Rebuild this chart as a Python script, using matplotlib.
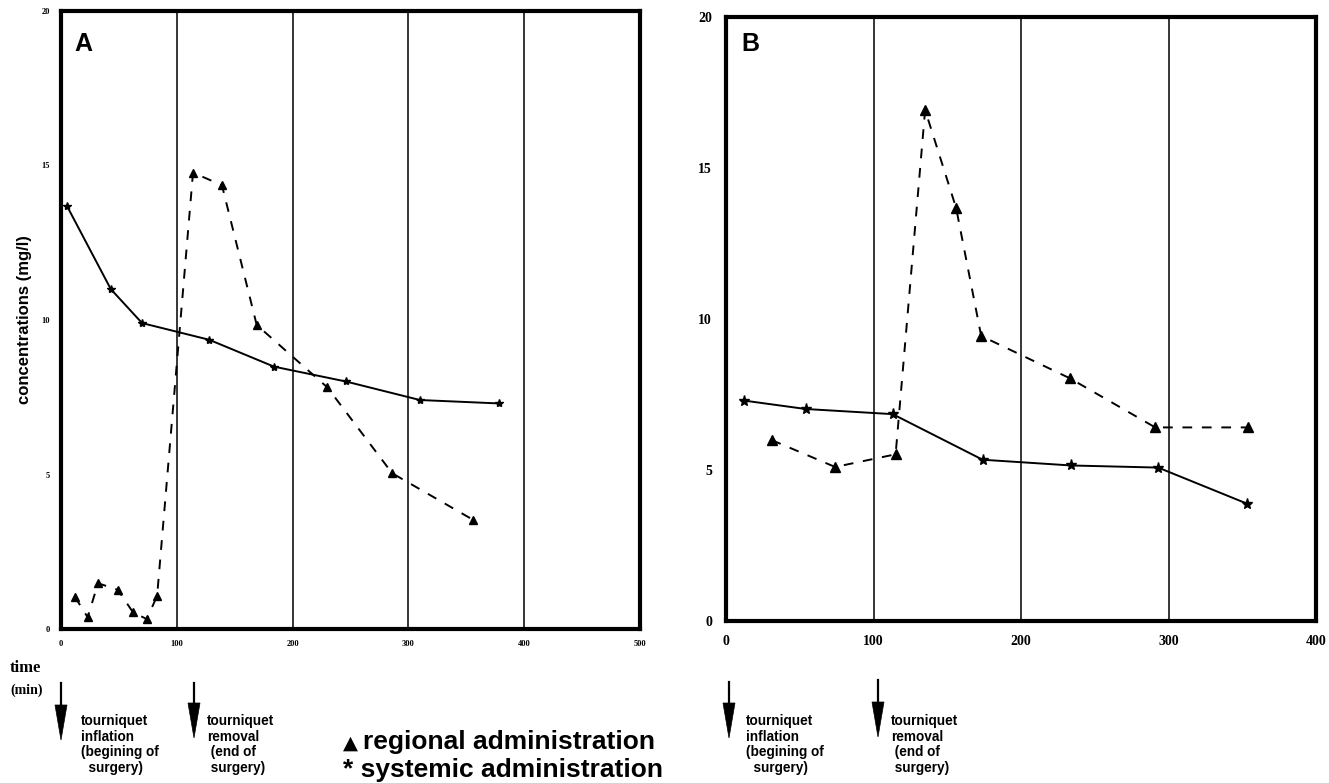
#!/usr/bin/env python3

import matplotlib
matplotlib.use("Agg")
import matplotlib.pyplot as plt
from matplotlib.lines import Line2D
from matplotlib.patches import Polygon

# panel A (time in min, concentration in mg/l)
a_regional_t = [12, 23, 32, 49, 62, 74, 83, 114, 139, 169, 230, 286, 356]
a_regional_c = [1.04, 0.38, 1.48, 1.27, 0.55, 0.32, 1.07, 14.77, 14.36, 9.84, 7.82, 5.04, 3.53]
a_systemic_t = [5, 43, 70, 128, 184, 246, 310, 378]
a_systemic_c = [13.70, 11.0, 9.9, 9.36, 8.49, 8.01, 7.41, 7.30]

# panel B
b_regional_t = [31, 74, 115, 135, 156, 173, 233, 291, 354]
b_regional_c = [5.99, 5.10, 5.52, 16.92, 13.68, 9.44, 8.04, 6.41, 6.41]
b_systemic_t = [12, 54, 113, 174, 234, 293, 353]
b_systemic_c = [7.30, 7.02, 6.85, 5.34, 5.15, 5.08, 3.89]

a_xticks = [0, 100, 200, 300, 400, 500]
b_xticks = [0, 100, 200, 300, 400]
yticks = [0, 5, 10, 15, 20]

W, H = 1329, 783
plt.rcParams['font.family'] = ['Liberation Sans', 'DejaVu Sans']

fig = plt.figure(figsize=(W / 100, H / 100), dpi=100)


def fx(px):
    return px / W


def fy(py):
    return 1 - py / H


def make_axes(left, top, right, bottom):
    return fig.add_axes([fx(left), fy(bottom), fx(right) - fx(left), fy(top) - fy(bottom)])


dash = (0, (5, 5))

# ---- panel A
ax1 = make_axes(61, 11, 640, 629)
ax1.set_xlim(0, 500)
ax1.set_ylim(0, 20)
for v in [100, 200, 300, 400]:
    ax1.axvline(v, color='black', lw=1.1, zorder=1)
ax1.plot(a_systemic_t, a_systemic_c, color='black', lw=1.4, marker='*', ms=6, zorder=3)
ax1.plot(a_regional_t, a_regional_c, color='black', lw=1.4, ls=dash, marker='^', ms=6, zorder=3)
ax1.set_xticks(a_xticks)
ax1.set_yticks(yticks)
ax1.tick_params(length=0, pad=8, labelsize=6)
for lab in ax1.get_xticklabels() + ax1.get_yticklabels():
    lab.set_fontfamily('Liberation Serif')
    lab.set_fontweight('bold')
ax1.set_ylabel('concentrations (mg/l)', fontsize=12, fontweight='bold', labelpad=7)
fig.text(fx(83), fy(44), 'A', fontsize=18, fontweight='bold', ha='center', va='center')

# ---- panel B
ax2 = make_axes(726, 17, 1316, 621)
ax2.set_xlim(0, 400)
ax2.set_ylim(0, 20)
for v in [100, 200, 300]:
    ax2.axvline(v, color='black', lw=1.1, zorder=1)
ax2.plot(b_systemic_t, b_systemic_c, color='black', lw=1.4, marker='*', ms=8, zorder=3)
ax2.plot(b_regional_t, b_regional_c, color='black', lw=1.4, ls=dash, marker='^', ms=7, zorder=3)
ax2.set_xticks(b_xticks)
ax2.set_yticks(yticks)
ax2.tick_params(length=0, pad=10, labelsize=10)
for lab in ax2.get_xticklabels() + ax2.get_yticklabels():
    lab.set_fontfamily('Liberation Serif')
    lab.set_fontweight('bold')
fig.text(fx(750), fy(44), 'B', fontsize=18, fontweight='bold', ha='center', va='center')

for ax in (ax1, ax2):
    for s in ax.spines.values():
        s.set_linewidth(3)

# ---- annotations below the panels
fig.text(fx(10), fy(668), 'time', fontsize=12, fontweight='bold', family='Liberation Serif', va='center')
fig.text(fx(10), fy(690), '(min)', fontsize=10, fontweight='bold', family='Liberation Serif', va='center')


def down_arrow(x, y0, y1, head=35, half_w=6):
    # shaft plus a long narrow head, as in the printed figure
    fig.add_artist(Line2D([fx(x), fx(x)], [fy(y0), fy(y1 - head + 2)],
                          transform=fig.transFigure, color='black', lw=1.6))
    fig.add_artist(Polygon([(fx(x - half_w), fy(y1 - head)), (fx(x + half_w), fy(y1 - head)),
                            (fx(x), fy(y1))], closed=True, transform=fig.transFigure,
                           facecolor='black', edgecolor='black', lw=0.5))


txt_in = 'tourniquet\ninflation\n(begining of\n  surgery)'
txt_out = 'tourniquet\nremoval\n (end of\n surgery)'

down_arrow(61, 683, 740)
down_arrow(194, 683, 738)
down_arrow(729, 682, 738)
down_arrow(878, 680, 737)

for tx1, tx2 in [(81, 207), (746, 891)]:
    fig.text(fx(tx1), fy(714), txt_in, fontsize=9.8, fontweight='bold', va='top',
             linespacing=1.15)
    fig.text(fx(tx2), fy(714), txt_out, fontsize=9.8, fontweight='bold', va='top',
             linespacing=1.15)

fig.text(fx(343), fy(749), '\u25b2', fontsize=14, fontweight='bold',
         va='baseline', family='DejaVu Sans')
fig.text(fx(363), fy(749), 'regional administration', fontsize=19, fontweight='bold',
         va='baseline')
fig.text(fx(343), fy(777), '* systemic administration', fontsize=19, fontweight='bold',
         va='baseline')

fig.savefig('out.png', dpi=100)
